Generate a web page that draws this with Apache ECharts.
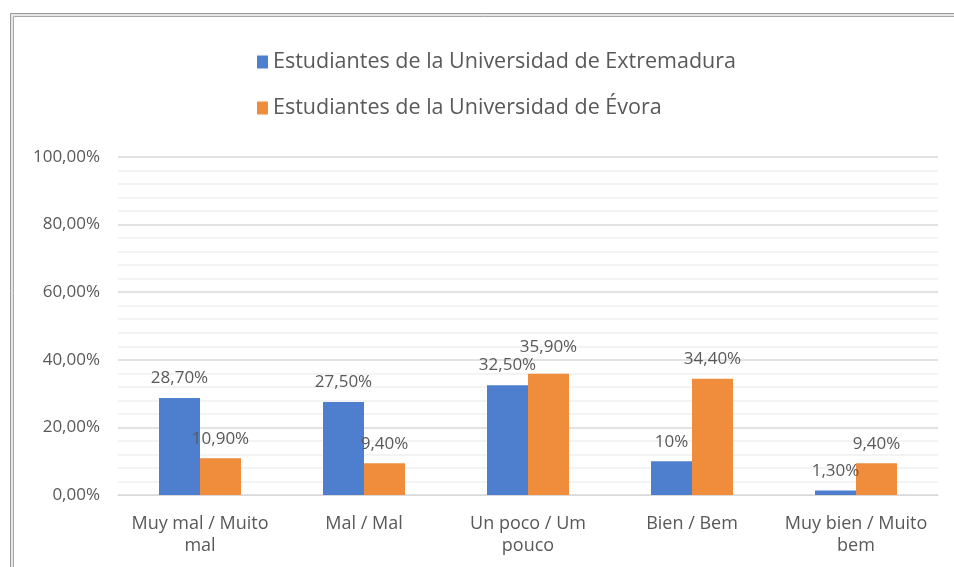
<!DOCTYPE html>
<html><head><meta charset="utf-8">
<script src="https://cdn.jsdelivr.net/npm/echarts@6/dist/echarts.min.js"></script>
<style>html,body{margin:0;padding:0;background:#fff}#c{width:954px;height:567px}</style>
</head><body><div id="c"></div>
<script>
const categories = ['Muy mal / Muito\nmal', 'Mal / Mal', 'Un poco / Um\npouco', 'Bien / Bem', 'Muy bien / Muito\nbem'];
const seriesNames = ['Estudiantes de la Universidad de Extremadura', 'Estudiantes de la Universidad de Évora'];
const extremadura = [28.7, 27.5, 32.5, 10, 1.3];
const evora = [10.9, 9.4, 35.9, 34.4, 9.4];
const extremaduraLabels = ['28,70%', '27,50%', '32,50%', '10%', '1,30%'];
const evoraLabels = ['10,90%', '9,40%', '35,90%', '34,40%', '9,40%'];
const yTicks = [0, 20, 40, 60, 80, 100];

const FONT = '"Open Sans", sans-serif';
const TXT = '#595959';
const chart = echarts.init(document.getElementById('c'));
function mkData(vals, labels, extraDist) {
  return vals.map((v, i) => ({ value: v, label: { formatter: labels[i], distance: (extraDist && extraDist[i]) || 11 } }));
}
chart.setOption({
  animation: false,
  graphic: [
    { type: 'rect', shape: { x: 10.5, y: 13.5, width: 960, height: 600 }, style: { fill: 'none', stroke: '#9a9a9a', lineWidth: 1 } },
    { type: 'rect', shape: { x: 12, y: 15, width: 960, height: 600 }, style: { fill: 'none', stroke: '#e6e6e6', lineWidth: 2 } },
    { type: 'rect', shape: { x: 13.5, y: 16.5, width: 960, height: 600 }, style: { fill: 'none', stroke: '#a8a8a8', lineWidth: 1 } }
  ],
  legend: {
    orient: 'vertical', left: 252, top: 46, itemGap: 24,
    itemWidth: 11, itemHeight: 13, icon: 'rect',
    textStyle: { fontFamily: FONT, fontSize: 21.5, color: TXT },
    data: seriesNames
  },
  grid: { left: 118, right: 16, top: 157, bottom: 72 },
  xAxis: {
    type: 'category', data: categories,
    axisTick: { show: false },
    axisLine: { lineStyle: { color: '#d9d9d9', width: 1 } },
    axisLabel: { fontFamily: FONT, fontSize: 18, color: TXT, margin: 18, lineHeight: 22, interval: 0 }
  },
  yAxis: {
    type: 'value', min: yTicks[0], max: yTicks[yTicks.length - 1], interval: 20,
    axisLine: { show: false }, axisTick: { show: false },
    axisLabel: { fontFamily: FONT, fontSize: 17, color: TXT, margin: 18,
      formatter: v => v.toFixed(2).replace('.', ',') + '%' },
    splitLine: { lineStyle: { color: '#d9d9d9', width: 1.5 } },
    minorTick: { show: false, splitNumber: 5 },
    minorSplitLine: { show: true, lineStyle: { color: '#f0f0f0', width: 1.5 } }
  },
  series: [
    { name: seriesNames[0], type: 'bar', data: mkData(extremadura, extremaduraLabels),
      barWidth: 41, barGap: '0%', itemStyle: { color: '#4e7fcf' },
      label: { show: true, position: 'top', fontFamily: FONT, fontSize: 17, color: TXT } },
    { name: seriesNames[1], type: 'bar', data: mkData(evora, evoraLabels, [0, 0, 18, 0, 0]),
      barWidth: 41, barGap: '0%', itemStyle: { color: '#f08d3c' },
      label: { show: true, position: 'top', fontFamily: FONT, fontSize: 17, color: TXT } }
  ]
});
</script></body></html>
